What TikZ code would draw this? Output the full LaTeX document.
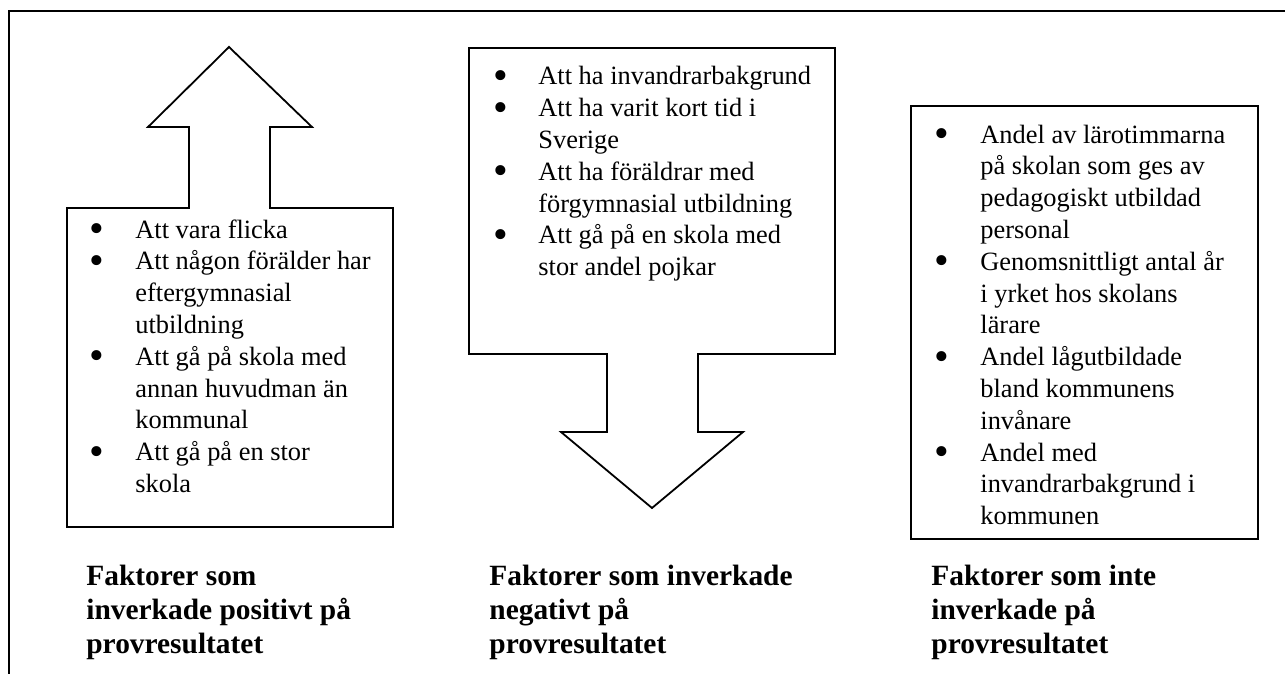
\documentclass[tikz,border=0pt]{standalone}
\usepackage{fontspec}
\setmainfont{Liberation Serif}
\usepackage{tikz}

\tikzset{
	outline/.style={line width=0.9pt},
	frameline/.style={line width=1.1pt},
	listtext/.style={anchor=base west, inner sep=0pt, font=\fontsize{13.2}{15.9}\selectfont},
	titletext/.style={anchor=base west, inner sep=0pt, align=left, font=\fontsize{14.7}{17}\selectfont\bfseries}
}
\newcommand{\bl}{\smash{\raisebox{-2.2pt}{\fontsize{21}{16}\selectfont\textbullet}}}

\begin{document}
\begin{tikzpicture}[x=0.5pt,y=-0.5pt]
				\useasboundingbox (0,0) rectangle (1285,674);
				\draw[frameline] (1290,11) -- (9,11) -- (9,680);
				
				% up arrow with box
				\draw[outline] (229,47) -- (312,127) -- (270,127) -- (270,208) -- (393,208) -- (393,527)
					-- (67,527) -- (67,208) -- (189,208) -- (189,127) -- (148,127) -- cycle;
				% box with down arrow
				\draw[outline] (469,48) -- (835,48) -- (835,354) -- (698,354) -- (698,432) -- (743,432)
					-- (652,508) -- (561,432) -- (607,432) -- (607,354) -- (469,354) -- cycle;
				% plain box
				\draw[outline] (911,106) rectangle (1258,539);
				
				\node[listtext] (poslist) at (89,238) {\begin{tabular}[t]{@{}p{23pt}@{}l@{}}
					\bl & Att vara flicka\\
					\bl & Att någon förälder har\\
					& eftergymnasial\\
					& utbildning\\
					\bl & Att gå på skola med\\
					& annan huvudman än\\
					& kommunal\\
					\bl & Att gå på en stor\\
					& skola
				\end{tabular}};
				\node[listtext] (neglist) at (493,85) {\begin{tabular}[t]{@{}p{22.5pt}@{}l@{}}
					\bl & Att ha invandrarbakgrund\\
					\bl & Att ha varit kort tid i\\
					& Sverige\\
					\bl & Att ha föräldrar med\\
					& förgymnasial utbildning\\
					\bl & Att gå på en skola med\\
					& stor andel pojkar
				\end{tabular}};
				\node[listtext] (nonelist) at (934,143) {\begin{tabular}[t]{@{}p{23pt}@{}l@{}}
					\bl & Andel av lärotimmarna\\
					& på skolan som ges av\\
					& pedagogiskt utbildad\\
					& personal\\
					\bl & Genomsnittligt antal år\\
					& i yrket hos skolans\\
					& lärare\\
					\bl & Andel lågutbildade\\
					& bland kommunens\\
					& invånare\\
					\bl & Andel med\\
					& invandrarbakgrund i\\
					& kommunen
				\end{tabular}};
				
				% titles, placed by the baseline of their last line
				\node[titletext] (postitle) at (86,653) {Faktorer som\\inverkade positivt på\\provresultatet};
				\node[titletext] (negtitle) at (489,653) {Faktorer som inverkade\\negativt på\\provresultatet};
				\node[titletext] (nonetitle) at (931,653) {Faktorer som inte\\inverkade på\\provresultatet};
			\end{tikzpicture}
\end{document}
